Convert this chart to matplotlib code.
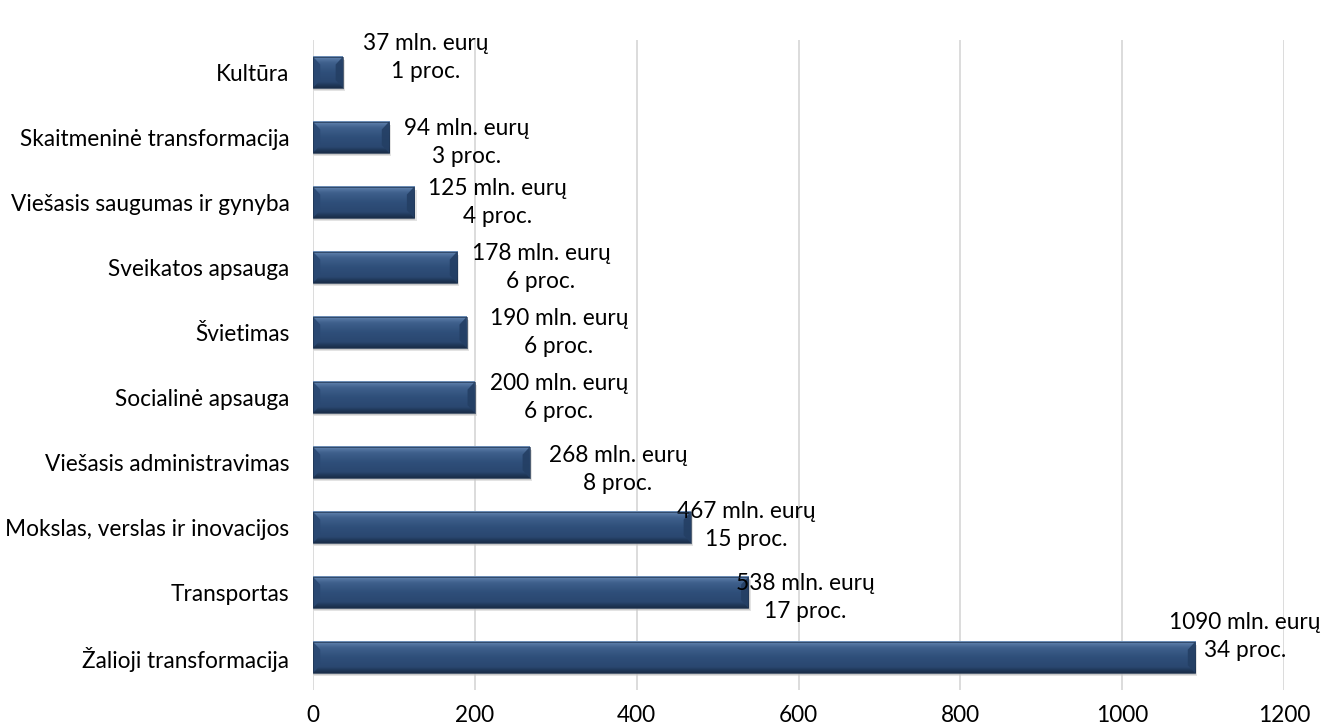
import numpy as np
import matplotlib.pyplot as plt
from matplotlib.patches import Polygon, Rectangle
from matplotlib.colors import LinearSegmentedColormap

categories = ['Kultūra', 'Skaitmeninė transformacija', 'Viešasis saugumas ir gynyba',
              'Sveikatos apsauga', 'Švietimas', 'Socialinė apsauga',
              'Viešasis administravimas', 'Mokslas, verslas ir inovacijos',
              'Transportas', 'Žalioji transformacija']
amounts = [37, 94, 125, 178, 190, 200, 268, 467, 538, 1090]
percents = [1, 3, 4, 6, 6, 6, 8, 15, 17, 34]
xticks = [0, 200, 400, 600, 800, 1000, 1200]

# label offsets in pixels (hand placed in the original)
dx_px = [83, 78, 83, 84, 92, 84, 88, 55, 57, 50]
dy_px = [15, -5, 0, 0, 0, 0, -7, 2, -5, 21]

plt.rcParams['font.family'] = ['Lato', 'DejaVu Sans']
fs = 16.3

fig = plt.figure(figsize=(13.33, 7.24), dpi=100)
ax = fig.add_axes([0.2348, 0.047, 0.7285, 0.898])

h = 0.48
cmap = LinearSegmentedColormap.from_list('bev', [
    (0.0, '#6f8fb8'), (0.08, '#5577a3'), (0.2, '#3f608c'), (0.5, '#2f4f7a'),
    (0.82, '#2a4770'), (0.9, '#213a5c'), (1.0, '#1a2d49')])
grad = np.linspace(0, 1, 64).reshape(-1, 1)

for i, v in enumerate(amounts):
    y0 = i - h / 2   # visually top (y inverted)
    y1 = i + h / 2
    # soft shadow below
    ax.add_patch(Rectangle((1, y0 + 0.05), v + 2, h, color='#c8c8c8', alpha=0.5, zorder=1, lw=0))
    ax.add_patch(Rectangle((0.5, y0 + 0.03), v + 1, h, color='#b0b0b0', alpha=0.5, zorder=1, lw=0))
    ax.imshow(grad, extent=(0, v, y1, y0), aspect='auto', cmap=cmap, zorder=2,
              interpolation='bilinear')
    b = min(9, v / 4)
    bh = 0.12
    ax.add_patch(Polygon([(0, y0), (b, y0 + bh), (b, y1 - bh), (0, y1)],
                         closed=True, color='#2a4872', alpha=0.9, zorder=3, lw=0))
    ax.add_patch(Polygon([(v, y0), (v - b, y0 + bh), (v - b, y1 - bh), (v, y1)],
                         closed=True, color='#243f64', alpha=0.9, zorder=3, lw=0))
    ax.add_patch(Rectangle((0, y0), v, h, fill=False, ec='#1e3350', lw=0.5, zorder=4))
    ax.annotate(f'{v} mln. eurų\n{percents[i]} proc.', xy=(v, i),
                xytext=(dx_px[i], dy_px[i]), textcoords='offset pixels',
                ha='center', va='center', fontsize=fs, linespacing=1.45, color='black')

ax.set_xlim(0, 1200)
ax.set_ylim(len(categories) - 0.5, -0.5)
ax.set_xticks(xticks)
ax.set_yticks(np.arange(len(categories)))
ax.set_yticklabels(categories, fontsize=fs)
ax.tick_params(axis='x', labelsize=fs, length=0, pad=11)
ax.tick_params(axis='y', length=0, pad=17)
ax.grid(axis='x', color='#d9d9d9', lw=1.3)
ax.set_axisbelow(True)
for s in ax.spines.values():
    s.set_visible(False)

fig.savefig('out.png', dpi=100)
